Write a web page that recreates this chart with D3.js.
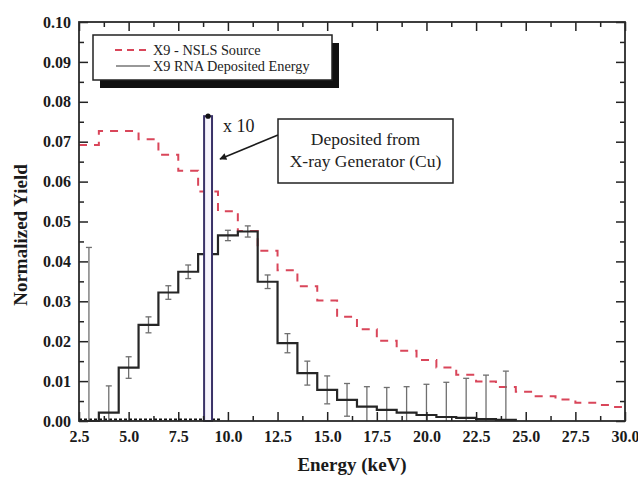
<!DOCTYPE html>
<html>
<head>
<meta charset="utf-8">
<script src="https://cdn.jsdelivr.net/npm/d3@7/dist/d3.min.js"></script>
<style>
  html, body { margin: 0; padding: 0; background: #fff; }
  svg { display: block; }
  text { font-family: "Liberation Serif", "Times New Roman", serif; }
</style>
</head>
<body>
<svg id="chart" width="638" height="477"></svg>
<script>
// Energy bins (keV, bin centres, 1 keV wide)
const sourceBins = d3.range(3, 31);
// X9 - NSLS source spectrum, normalized yield per bin
const sourceYield = [0.0692, 0.0727, 0.0727, 0.0706, 0.0667, 0.0627, 0.0575, 0.0526,
  0.0476, 0.0427, 0.0378, 0.0338, 0.0302, 0.0261, 0.0230, 0.0201, 0.0176, 0.0153,
  0.0134, 0.0116, 0.0099, 0.0085, 0.0073, 0.0062, 0.0054, 0.0046, 0.0040, 0.0035];

// X9 RNA deposited energy histogram with statistical errors
const rnaBins = d3.range(3, 25);
const rnaYield = [0.0000, 0.0021, 0.0134, 0.0241, 0.0322, 0.0374, 0.0418, 0.0465,
  0.0475, 0.0349, 0.0195, 0.0120, 0.0078, 0.0053, 0.0036, 0.0028, 0.0021, 0.0015,
  0.0010, 0.0008, 0.0005, 0.0003];
const rnaError = [0.0435, 0.0067, 0.0027, 0.0020, 0.0017, 0.0017, 0.0015, 0.0013,
  0.0014, 0.0017, 0.0024, 0.0030, 0.0035, 0.0041, 0.0050, 0.0056, 0.0065, 0.0077,
  0.0087, 0.0099, 0.0110, 0.0122];

// Energy deposited from the Cu X-ray generator (scaled x 10)
const cuEdges = [2.5, 8.8, 9.2, 9.6];
const cuYield = [0.0004, 0.0764, 0.0004];

// Axis ticks
const xMajorTicks = [2.5, 5, 7.5, 10, 12.5, 15, 17.5, 20, 22.5, 25, 27.5, 30];
const xMinorTicks = d3.range(3.75, 30, 2.5);
const yMajorTicks = [0, 0.01, 0.02, 0.03, 0.04, 0.05, 0.06, 0.07, 0.08, 0.09, 0.10];
const yMinorTicks = d3.range(0.005, 0.1, 0.01);

const legendLabels = ["X9 - NSLS Source", "X9 RNA Deposited Energy"];

const svg = d3.select("#chart");
const plotLeft = 79, plotRight = 625, plotTop = 22, plotBottom = 421;

const x = d3.scaleLinear().domain([2.5, 30]).range([plotLeft, plotRight]);
const y = d3.scaleLinear().domain([0, 0.10]).range([plotBottom, plotTop]);

const fmtX = d3.format(".1f");
const fmtY = d3.format(".2f");

// Step outline of a histogram with 1 keV bins, clipped to the axis range
function stepPoints(centres, values) {
  const pts = [];
  centres.forEach((c, i) => {
    const lo = Math.max(2.5, c - 0.5), hi = Math.min(30, c + 0.5);
    pts.push([lo, values[i]], [hi, values[i]]);
  });
  return pts;
}
const line = d3.line().x(d => x(d[0])).y(d => y(d[1]));

// Source spectrum (red dashed)
svg.append("path")
  .attr("d", line(stepPoints(sourceBins, sourceYield)))
  .attr("fill", "none")
  .attr("stroke", "#d9465a")
  .attr("stroke-width", 2)
  .attr("stroke-dasharray", "8,7");

// Cu generator low-level floor (dotted)
svg.append("path")
  .attr("d", line([[cuEdges[0], cuYield[0]], [cuEdges[1], cuYield[0]]]))
  .attr("fill", "none")
  .attr("stroke", "#111")
  .attr("stroke-width", 2)
  .attr("stroke-dasharray", "3,2");
svg.append("path")
  .attr("d", line([[cuEdges[2], cuYield[2]], [cuEdges[3], cuYield[2]]]))
  .attr("fill", "none")
  .attr("stroke", "#111")
  .attr("stroke-width", 2)
  .attr("stroke-dasharray", "3,2");

// Error bars for the RNA histogram
const eb = svg.append("g").attr("stroke", "#6f6f6f").attr("stroke-width", 1.3);
rnaBins.forEach((c, i) => {
  const hi = rnaYield[i] + rnaError[i];
  const lo = Math.max(0, rnaYield[i] - rnaError[i]);
  eb.append("line").attr("x1", x(c)).attr("x2", x(c)).attr("y1", y(lo)).attr("y2", y(hi));
  eb.append("line").attr("x1", x(c) - 3).attr("x2", x(c) + 3).attr("y1", y(hi)).attr("y2", y(hi));
  if (lo > 0) {
    eb.append("line").attr("x1", x(c) - 3).attr("x2", x(c) + 3).attr("y1", y(lo)).attr("y2", y(lo));
  }
});

// RNA deposited energy histogram (black step line)
const rnaPts = stepPoints(rnaBins, rnaYield);
rnaPts.push([rnaBins[rnaBins.length - 1] + 0.5, 0]);
svg.append("path")
  .attr("d", line(rnaPts))
  .attr("fill", "none")
  .attr("stroke", "#262626")
  .attr("stroke-width", 2.2);

// Cu generator peak (x 10)
svg.append("rect")
  .attr("x", x(cuEdges[1]))
  .attr("y", y(cuYield[1]))
  .attr("width", x(cuEdges[2]) - x(cuEdges[1]))
  .attr("height", y(0) - y(cuYield[1]))
  .attr("fill", "#f6f4fc")
  .attr("stroke", "#3a3268")
  .attr("stroke-width", 2);
svg.append("circle")
  .attr("cx", x((cuEdges[1] + cuEdges[2]) / 2))
  .attr("cy", y(cuYield[1]))
  .attr("r", 2.6)
  .attr("fill", "#111");

// Axes: ticks point into the plot on all four sides
function styleAxis(g) {
  g.select(".domain").remove();
  g.selectAll(".tick line").attr("stroke", "#222").attr("stroke-width", 1.5);
  g.selectAll("text")
    .attr("fill", "#1a1a1a")
    .style("font-size", "16px")
    .style("font-weight", "bold")
    .style("font-family", "'Liberation Serif', 'Times New Roman', serif");
}
svg.append("g").attr("transform", `translate(0,${plotBottom})`)
  .call(d3.axisBottom(x).tickValues(xMajorTicks).tickSize(-9).tickPadding(10).tickFormat(fmtX))
  .call(styleAxis);
svg.append("g").attr("transform", `translate(0,${plotBottom})`)
  .call(d3.axisBottom(x).tickValues(xMinorTicks).tickSize(-5).tickFormat(""))
  .call(styleAxis);
svg.append("g").attr("transform", `translate(0,${plotTop})`)
  .call(d3.axisTop(x).tickValues(xMajorTicks).tickSize(-9).tickFormat(""))
  .call(styleAxis);
svg.append("g").attr("transform", `translate(0,${plotTop})`)
  .call(d3.axisTop(x).tickValues(xMinorTicks).tickSize(-5).tickFormat(""))
  .call(styleAxis);
svg.append("g").attr("transform", `translate(${plotLeft},0)`)
  .call(d3.axisLeft(y).tickValues(yMajorTicks).tickSize(-9).tickPadding(8).tickFormat(fmtY))
  .call(styleAxis);
svg.append("g").attr("transform", `translate(${plotLeft},0)`)
  .call(d3.axisLeft(y).tickValues(yMinorTicks).tickSize(-5).tickFormat(""))
  .call(styleAxis);
svg.append("g").attr("transform", `translate(${plotRight},0)`)
  .call(d3.axisRight(y).tickValues(yMajorTicks).tickSize(-9).tickFormat(""))
  .call(styleAxis);
svg.append("g").attr("transform", `translate(${plotRight},0)`)
  .call(d3.axisRight(y).tickValues(yMinorTicks).tickSize(-5).tickFormat(""))
  .call(styleAxis);

// Plot frame
svg.append("rect")
  .attr("x", plotLeft).attr("y", plotTop)
  .attr("width", plotRight - plotLeft).attr("height", plotBottom - plotTop)
  .attr("fill", "none").attr("stroke", "#2a2a2a").attr("stroke-width", 1.8);

// Axis titles
svg.append("text")
  .attr("x", (plotLeft + plotRight) / 2).attr("y", 471)
  .attr("text-anchor", "middle")
  .style("font-size", "19px").style("font-weight", "bold").attr("fill", "#1a1a1a")
  .text("Energy (keV)");
svg.append("text")
  .attr("transform", "translate(27,235) rotate(-90)")
  .attr("text-anchor", "middle")
  .style("font-size", "19px").style("font-weight", "bold").attr("fill", "#1a1a1a")
  .text("Normalized Yield");

// Legend with drop shadow
const lg = svg.append("g");
lg.append("rect").attr("x", 100).attr("y", 43).attr("width", 239).attr("height", 45).attr("fill", "#111");
lg.append("rect").attr("x", 93).attr("y", 35).attr("width", 239).attr("height", 45)
  .attr("fill", "#fff").attr("stroke", "#222").attr("stroke-width", 1.5);
lg.append("line").attr("x1", 115).attr("x2", 151).attr("y1", 50).attr("y2", 50)
  .attr("stroke", "#d9465a").attr("stroke-width", 2.2).attr("stroke-dasharray", "7,5");
lg.append("line").attr("x1", 116).attr("x2", 150).attr("y1", 66).attr("y2", 66)
  .attr("stroke", "#333").attr("stroke-width", 1.2);
lg.selectAll("text.lab").data(legendLabels).join("text")
  .attr("class", "lab")
  .attr("x", 153).attr("y", (d, i) => 55 + i * 16)
  .style("font-size", "14.3px").attr("fill", "#222")
  .text(d => d);

// Annotation for the Cu generator peak
svg.append("text")
  .attr("x", 223).attr("y", 132)
  .style("font-size", "18px").attr("fill", "#1a1a1a")
  .text("x 10");

svg.append("defs").append("marker")
  .attr("id", "arrowhead")
  .attr("viewBox", "0 0 10 10")
  .attr("refX", 9).attr("refY", 5)
  .attr("markerWidth", 9).attr("markerHeight", 7)
  .attr("markerUnits", "userSpaceOnUse")
  .attr("orient", "auto")
  .append("path").attr("d", "M0,0 L10,5 L0,10 z").attr("fill", "#1a1a1a");
svg.append("line")
  .attr("x1", 278).attr("y1", 135).attr("x2", 220).attr("y2", 159)
  .attr("stroke", "#1a1a1a").attr("stroke-width", 1.5)
  .attr("marker-end", "url(#arrowhead)");

svg.append("rect")
  .attr("x", 278).attr("y", 119).attr("width", 175).attr("height", 64)
  .attr("fill", "#fff").attr("stroke", "#222").attr("stroke-width", 1.5);
svg.append("text")
  .attr("x", 365.5).attr("y", 145)
  .attr("text-anchor", "middle")
  .style("font-size", "17.5px").attr("fill", "#222")
  .text("Deposited from");
svg.append("text")
  .attr("x", 365.5).attr("y", 167)
  .attr("text-anchor", "middle")
  .style("font-size", "17.5px").attr("fill", "#222")
  .text("X-ray Generator (Cu)");
</script>
</body>
</html>
